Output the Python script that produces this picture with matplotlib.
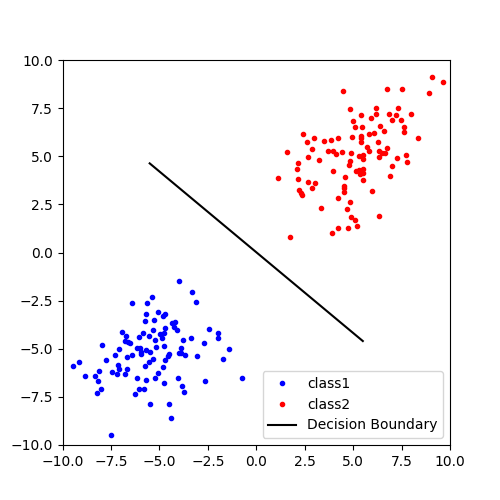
import numpy as np
import matplotlib
matplotlib.use("Agg")
import matplotlib.pyplot as plt

# === 数据：两类样本点 ===
class1_x = [-3.99, -3.30, -3.09, -5.36, -6.40, -5.62, -5.05, -5.69, -5.72, -4.83,
            -4.73, -5.26, -4.33, -4.18, -4.26, -4.07, -4.73, -5.31, -4.76, -4.97,
            -4.85, -5.83, -5.52, -6.03, -6.91, -6.71, -6.76, -6.60, -6.50, -5.21,
            -3.76, -3.35, -2.46, -1.99, -1.99, -2.68, -7.98, -7.07, -7.27, -7.74,
            -6.65, -6.40, -6.14, -5.98, -5.93, -5.93, -5.67, -5.48, -5.16, -4.74,
            -4.49, -4.69, -4.57, -4.00, -3.88, -3.90, -3.66, -3.04, -1.39, -1.70,
            -5.33, -5.52, -5.72, -4.80, -5.05, -5.21, -5.67, -6.14, -4.74, -4.02,
            -3.82, -3.75, -2.65, -0.72, -5.78, -6.03, -6.24, -5.48, -4.49, -4.38,
            -7.48, -9.44, -9.13, -8.82, -8.31, -8.10, -8.15, -8.00, -8.20, -7.43,
            -7.17, -7.12, -7.07, -6.76, -6.65]
class1_y = [-1.50, -2.07, -2.59, -2.33, -2.64, -2.64, -3.07, -3.21, -3.58, -3.32,
            -3.21, -3.52, -3.68, -3.63, -3.85, -4.04, -3.94, -4.04, -4.20, -4.25,
            -4.46, -4.20, -4.35, -4.41, -4.15, -4.35, -4.60, -4.67, -4.72, -4.56,
            -4.56, -4.46, -3.99, -4.20, -4.44, -4.72, -4.82, -5.03, -5.34, -5.60,
            -5.45, -5.34, -4.98, -4.98, -5.19, -5.29, -5.08, -5.15, -4.93, -4.87,
            -5.29, -5.60, -5.38, -5.24, -4.98, -5.24, -5.34, -5.39, -5.03, -5.55,
            -5.55, -5.71, -5.91, -5.97, -6.28, -6.54, -6.64, -6.54, -6.80, -6.54,
            -6.95, -7.26, -6.69, -6.54, -7.11, -7.11, -7.37, -7.89, -7.89, -8.61,
            -9.50, -5.91, -5.71, -6.43, -6.43, -6.17, -6.69, -7.11, -7.32, -6.23,
            -6.33, -5.86, -6.07, -6.33, -6.07]

class2_x = [9.09, 9.66, 8.93, 6.77, 7.54, 4.49, 4.86, 5.42, 6.20, 6.20,
            5.94, 5.01, 5.11, 5.48, 6.87, 7.23, 7.33, 8.00, 7.02, 7.49,
            7.64, 7.64, 6.40, 6.61, 6.09, 5.84, 5.42, 5.42, 5.42, 4.96,
            6.30, 8.37, 2.43, 2.64, 3.00, 3.51, 3.88, 4.24, 2.89, 1.60,
            2.69, 3.26, 3.72, 3.98, 4.13, 4.44, 4.91, 5.73, 5.84, 6.35,
            6.51, 6.66, 6.77, 6.35, 5.32, 5.53, 5.53, 4.86, 4.80, 7.75,
            7.28, 7.80, 7.02, 6.92, 2.17, 2.12, 2.17, 1.14, 3.98, 4.60,
            5.17, 5.32, 5.53, 5.53, 5.37, 5.53, 2.69, 3.05, 2.89, 2.22,
            2.33, 2.35, 4.55, 4.55, 4.55, 5.99, 4.24, 4.86, 3.36, 4.70,
            4.91, 5.11, 6.35, 5.22, 4.75, 4.24, 3.93, 1.76]
class2_y = [9.10, 8.84, 8.27, 8.48, 8.48, 8.37, 7.44, 7.13, 7.49, 7.18,
            6.97, 6.81, 6.50, 6.50, 7.18, 7.13, 7.49, 7.18, 6.87, 6.87,
            6.50, 6.24, 6.55, 6.29, 6.19, 6.14, 6.03, 5.93, 5.72, 5.98,
            5.72, 5.93, 6.14, 5.72, 5.93, 5.77, 5.83, 5.93, 5.36, 5.20,
            4.94, 4.79, 5.26, 5.26, 5.10, 5.20, 5.15, 5.46, 5.26, 5.26,
            5.15, 5.15, 5.41, 4.94, 5.00, 5.05, 4.84, 4.74, 4.53, 5.05,
            4.89, 4.68, 4.48, 3.96, 4.63, 4.32, 3.80, 3.85, 4.22, 3.90,
            4.22, 4.27, 4.32, 4.11, 4.06, 3.75, 3.64, 3.59, 3.33, 3.23,
            3.07, 3.01, 3.44, 3.33, 3.13, 3.18, 2.81, 2.61, 2.29, 2.24,
            1.83, 1.67, 1.88, 1.36, 1.26, 1.26, 1.00, 0.79]

# 决策边界的两个端点
boundary_x = [-5.5, 5.5]
boundary_y = [4.63, -4.60]

# === 画图 ===
plt.figure(figsize=(5, 5), dpi=100)
plt.plot(class1_x, class1_y, 'b.', label='class1')
plt.plot(class2_x, class2_y, 'r.', label='class2')
plt.plot(boundary_x, boundary_y, 'k-', label='Decision Boundary')
plt.xlim(-10, 10)
plt.ylim(-10, 10)
plt.legend(loc='lower right')
plt.savefig("out.png")
